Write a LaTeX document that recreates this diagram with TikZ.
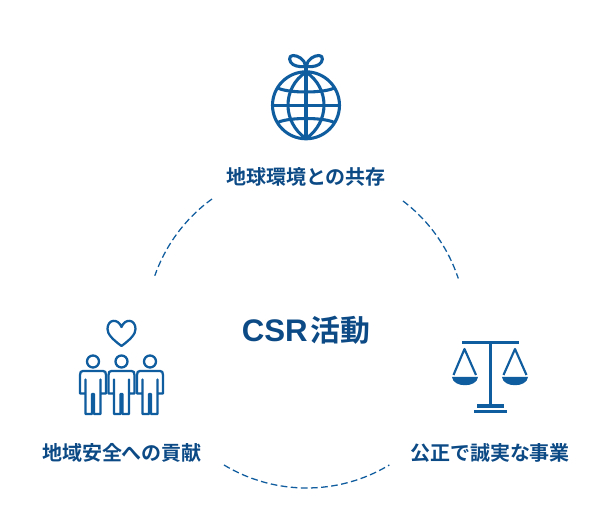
\documentclass[tikz,border=0pt]{standalone}
\usepackage{fontspec}
\newfontfamily\jpb{Noto Sans CJK JP Bold}
\newfontfamily\latb{Liberation Sans Bold}
\definecolor{ink}{HTML}{0C4A86}
\definecolor{icoblue}{HTML}{0F5C9E}
\tikzset{
  lab/.style={font=\jpb\fontsize{15pt}{18pt}\selectfont, text=ink, inner sep=0pt, anchor=center},
  ico/.style={draw=icoblue, line width=2.3pt, line join=round},
  ppl/.style={draw=icoblue, line width=1.7pt, line join=round},
  solid/.style={fill=icoblue},
  arcd/.style={draw=icoblue, line width=0.95pt, dash pattern=on 5pt off 2.6pt},
}
\begin{document}
\begin{tikzpicture}[x=0.75pt,y=-0.75pt]
\useasboundingbox (0,0) rectangle (612,520);
\fill[white] (0,0) rectangle (612,520);
% arcs
\draw[arcd] (212,199) arc[start angle=125.9,end angle=160.7,radius=120pt];
\draw[arcd] (403,201) arc[start angle=52.8,end angle=18.2,radius=120pt];
\draw[arcd] (224,465) arc[start angle=238.9,end angle=301.1,radius=120pt];
% labels
\node[lab] (l1) at (306,176.5) {地球環境との共存};
\node[lab] (l2) at (122,452.5) {地域安全への貢献};
\node[lab] (l3) at (490,452.5) {公正で誠実な事業};
\node[text=ink,inner sep=0pt] (t) at (306,330) {{\latb\fontsize{23.4pt}{28pt}\selectfont CSR}\hspace{2pt}{\jpb\fontsize{22.4pt}{28pt}\selectfont 活動}};
% globe
\draw[ico] (306,105.3) circle[radius=33.5];
\draw[ico] (306,65) -- (306,139);
\draw[ico] (273,105.3) -- (339,105.3);
\draw[ico] (306,72) .. controls (282,88) and (282,122) .. (306,138.6);
\draw[ico] (306,72) .. controls (330,88) and (330,122) .. (306,138.6);
\draw[ico] (277,87.5) .. controls (286,93.5) and (326,93.5) .. (335,87.5);
\draw[ico] (277,123) .. controls (286,117) and (326,117) .. (335,123);
\draw[ico] (306,66) .. controls (304,59) and (298,55.5) .. (293,55.5) .. controls (288,55.5) and (289,62) .. (293,64.5) .. controls (297,67) and (303,67) .. (306,66);
\draw[ico] (306,66) .. controls (308,59) and (314,55.5) .. (319,55.5) .. controls (324,55.5) and (323,62) .. (319,64.5) .. controls (315,67) and (309,67) .. (306,66);
% heart
\draw[ppl] (121.5,346) .. controls (112,339) and (107.5,334) .. (107.5,329)
  .. controls (107.5,319) and (118,318) .. (121.5,327)
  .. controls (125,318) and (135.5,319) .. (135.5,329)
  .. controls (135.5,334) and (131,339) .. (121.5,346) -- cycle;
% people
\foreach \px in {93,121.5,150}{
  \draw[ppl] (\px,361.5) circle[radius=6];
  \draw[ppl] (\px-10,371) -- (\px+10,371)
     .. controls (\px+12,371) and (\px+13,372) .. (\px+13,375)
     -- (\px+13,393.5) -- (\px+7.5,393.5) -- (\px+7.5,379.5) -- (\px+7.5,414) -- (\px+1,414) -- (\px+1,394) -- (\px-1,394) -- (\px-1,414)
     -- (\px-7.5,414) -- (\px-7.5,379.5) -- (\px-7.5,393.5) -- (\px-13,393.5) -- (\px-13,375)
     .. controls (\px-13,372) and (\px-12,371) .. (\px-10,371) -- cycle;
}
% scales
\fill[solid] (462,341) rectangle (518.5,344);
\fill[solid] (488.5,344) rectangle (491.5,406);
\fill[solid] (477,404.5) rectangle (503.5,408);
\fill[solid] (473.5,410) rectangle (507,413.5);
\draw[ico,line width=1.6pt] (453.5,375) -- (464.5,349) -- (476,375);
\draw[ico,line width=1.6pt] (503.5,375) -- (515,349) -- (526.5,375);
\fill[solid] (452,377) -- (478,377) .. controls (477,388) and (453,388) .. (452,377) -- cycle;
\fill[solid] (502,377) -- (528,377) .. controls (527,388) and (503,388) .. (502,377) -- cycle;
\end{tikzpicture}
\end{document}
